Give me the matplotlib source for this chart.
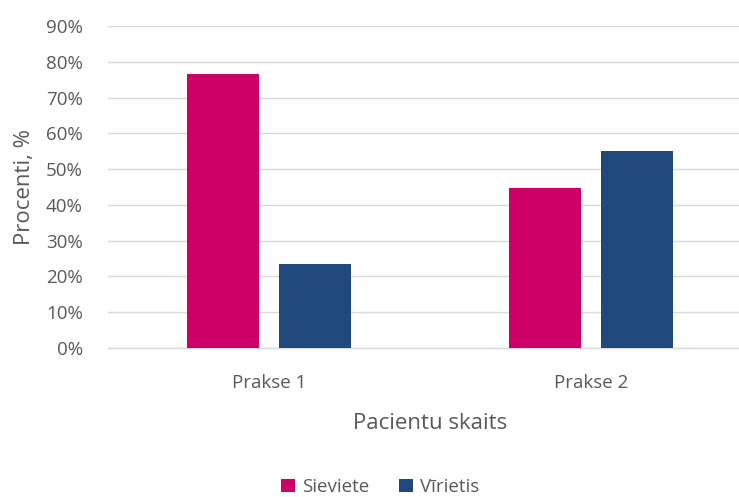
import numpy as np
import matplotlib
matplotlib.use("Agg")
import matplotlib.pyplot as plt
from matplotlib.ticker import PercentFormatter

# Data
categories = ["Prakse 1", "Prakse 2"]
sieviete = [76.5, 44.8]
virietis = [23.5, 55.2]
series_names = ["Sieviete", "Vīrietis"]
colors = ["#CC0066", "#1F497D"]
text_color = "#595959"

plt.rcParams["font.family"] = ["Open Sans", "DejaVu Sans"]

fig = plt.figure(figsize=(7.39, 4.97), dpi=100)
# plot area (pixels): x 108..752, y 26..348
ax = fig.add_axes([108 / 739, (497 - 348) / 497, 644 / 739, 322 / 497])

x = np.arange(len(categories))
width = 0.2236
offset = 0.143
ax.bar(x - offset, sieviete, width, color=colors[0], label=series_names[0], zorder=3)
ax.bar(x + offset, virietis, width, color=colors[1], label=series_names[1], zorder=3)

ax.set_xlim(-0.5, 1.5)
ax.set_ylim(0, 90)
ax.set_yticks(np.arange(0, 91, 10))
ax.yaxis.set_major_formatter(PercentFormatter(decimals=0))
ax.set_xticks(x)
ax.set_xticklabels(categories)

ax.grid(axis="y", color="#D9D9D9", linewidth=1, zorder=0)
for s in ["top", "right", "left"]:
    ax.spines[s].set_visible(False)
ax.spines["bottom"].set_color("#D9D9D9")
ax.spines["bottom"].set_linewidth(1)
ax.tick_params(axis="both", length=0, colors=text_color, labelsize=13.5)
ax.tick_params(axis="y", pad=18)
ax.tick_params(axis="x", pad=19)

ax.set_ylabel("Procenti, %", color=text_color, fontsize=16, labelpad=8)
ax.set_xlabel("Pacientu skaits", color=text_color, fontsize=16, labelpad=15)

fig.legend(loc="center", bbox_to_anchor=(380 / 739, 1 - 487 / 497), ncol=2,
           frameon=False, fontsize=13.5, handlelength=0.75, handleheight=0.75,
           handletextpad=0.35, columnspacing=1.6, labelcolor=text_color)

fig.savefig("out.png", dpi=100)
